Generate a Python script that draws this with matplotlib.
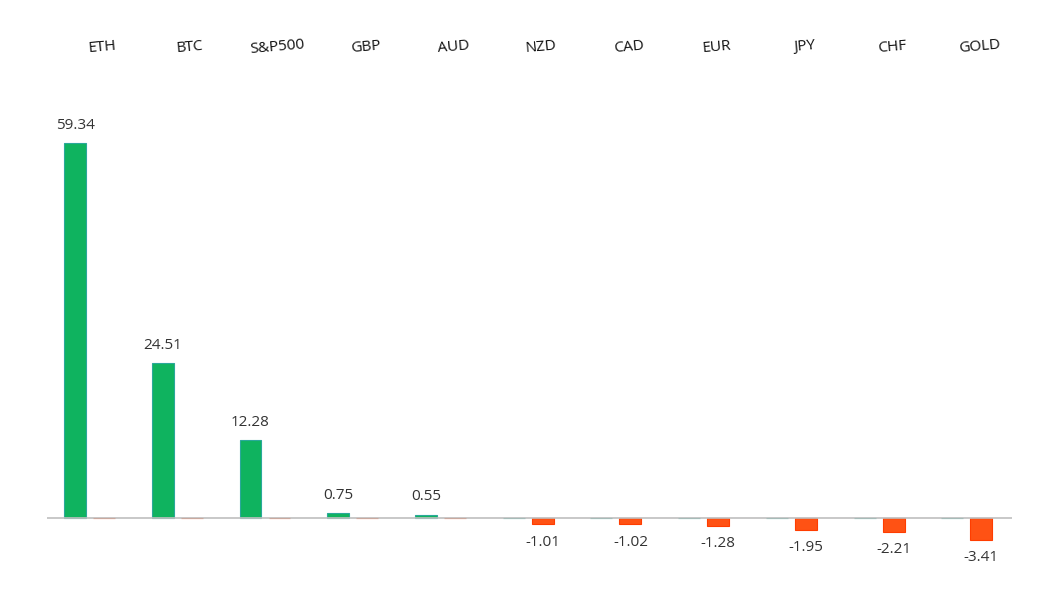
import matplotlib
matplotlib.use("Agg")
import matplotlib.pyplot as plt
import numpy as np

categories = ["ETH", "BTC", "S&P500", "GBP", "AUD", "NZD", "CAD", "EUR", "JPY", "CHF", "GOLD"]
values = [59.34, 24.51, 12.28, 0.75, 0.55, -1.01, -1.02, -1.28, -1.95, -2.21, -3.41]

fig = plt.figure(figsize=(10.61, 6.15), dpi=100)
ax = fig.add_axes([47/1061, 1-580/615, 965/1061, 540/615])
x = np.arange(len(categories))
pos = [v if v > 0 else 0 for v in values]
neg = [v if v < 0 else 0 for v in values]
w = 0.25
ax.bar(x - 0.18, pos, width=w, color="#0fb35f", edgecolor="#2aa89a", linewidth=0.8)
ax.bar(x + 0.15, neg, width=w, color="#ff5214", edgecolor="#ff3d00", linewidth=0.8)
ax.set_xlim(-0.5, len(categories) - 0.5)
ax.set_ylim(-9.8, 75.6)
ax.axhline(0, color="#bfbfbf", linewidth=1.2)
for xi, v in zip(x, values):
    if v > 0:
        ax.text(xi - 0.18, v + 1.6, f"{v:.2f}", ha="center", va="bottom", fontsize=11, color="#333333", family="Open Sans")
    else:
        ax.text(xi + 0.15, v - 1.6, f"{v:.2f}", ha="center", va="top", fontsize=11, color="#333333", family="Open Sans")
    ax.text(xi + 0.13, 74.5, categories[xi], ha="center", va="center", rotation=5, fontsize=11, color="#111111", family="Open Sans")
ax.axis("off")
fig.savefig("out.png", dpi=100)
